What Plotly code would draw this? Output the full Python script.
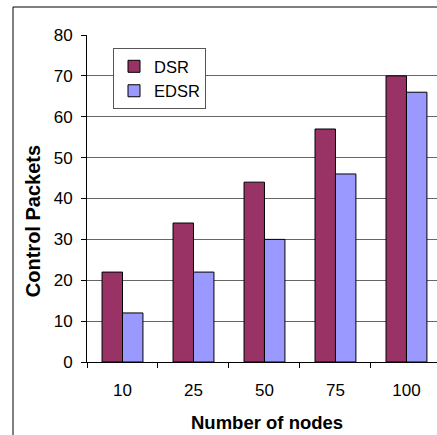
import plotly.graph_objects as go

categories = ["10", "25", "50", "75", "100"]
dsr = [22, 34, 44, 57, 70]
edsr = [12, 22, 30, 46, 66]

FONT = "Liberation Sans, Arial, sans-serif"

fig = go.Figure()
fig.add_trace(go.Bar(name="DSR", x=categories, y=dsr,
                     marker=dict(color="#993366", line=dict(color="black", width=1))))
fig.add_trace(go.Bar(name="EDSR", x=categories, y=edsr,
                     marker=dict(color="#9999FF", line=dict(color="black", width=1))))

fig.update_layout(
    width=437, height=435,
    margin=dict(l=87, r=0, t=35, b=73),
    paper_bgcolor="white", plot_bgcolor="white",
    barmode="group", bargap=0.424, bargroupgap=0,
    font=dict(family=FONT, size=17, color="black"),
    showlegend=True,
    legend=dict(x=0.0743, y=0.96, xanchor="left", yanchor="top",
                bgcolor="white", bordercolor="#555", borderwidth=1,
                font=dict(size=16.5), tracegroupgap=0),
    xaxis=dict(type="category", range=[-0.5, 4.43], tickson="boundaries",
               ticks="outside", ticklen=5, tickcolor="black",
               showline=True, linecolor="black", linewidth=1,
               showgrid=False, ticklabelstandoff=13),
    yaxis=dict(range=[0, 80], dtick=10, ticks="outside", ticklen=5, tickcolor="black",
               showline=True, linecolor="black", linewidth=1,
               showgrid=True, gridcolor="#666", gridwidth=1,
               zeroline=False, ticklabelstandoff=5),
    annotations=[
        dict(text="<b>Control Packets</b>", xref="paper", yref="paper",
             x=-0.154, y=0.431, xanchor="center", yanchor="middle",
             textangle=-90, showarrow=False, font=dict(size=20)),
        dict(text="<b>Number of nodes</b>", xref="paper", yref="paper",
             x=0.513, y=-0.1835, xanchor="center", yanchor="middle",
             showarrow=False, font=dict(size=18.5)),
    ],
    shapes=[
        dict(type="line", xref="paper", yref="paper",
             x0=-0.2114, y0=-0.4, x1=-0.2114, y1=1.0856,
             line=dict(color="black", width=1), layer="below"),
        dict(type="line", xref="paper", yref="paper",
             x0=-0.2114, y0=1.0856, x1=1.3, y1=1.0856,
             line=dict(color="black", width=1), layer="below"),
    ],
)

fig.write_html("out.html", config={"displayModeBar": False},
               post_script=("document.documentElement.style.margin='0';"
                            "document.documentElement.style.overflow='hidden';"
                            "document.body.style.margin='0';"
                            "document.body.style.overflow='hidden';"))
